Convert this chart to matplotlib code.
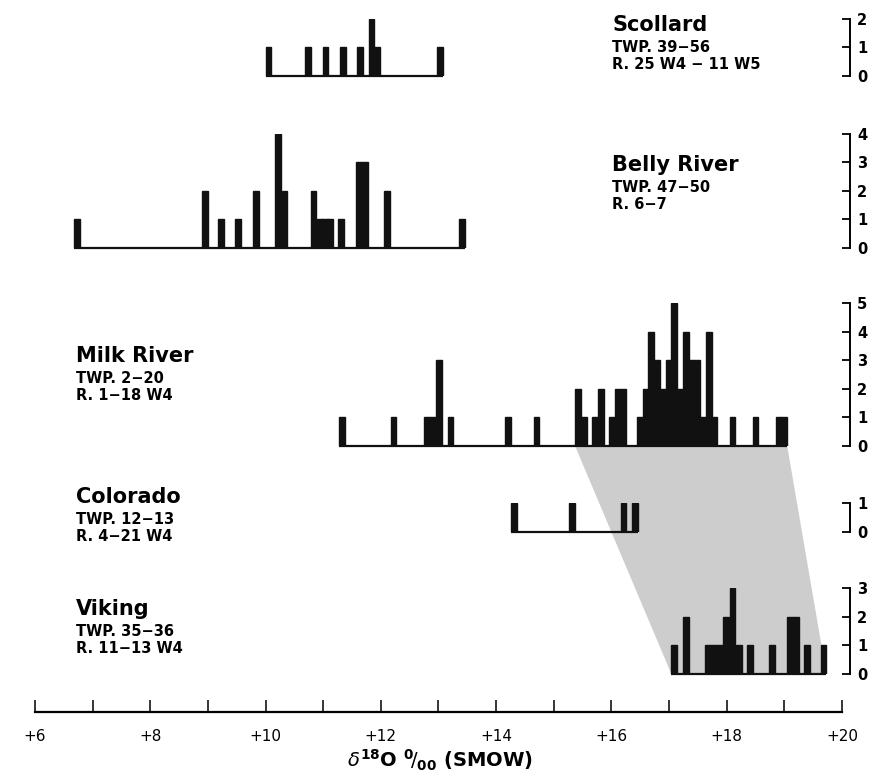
import matplotlib
matplotlib.use("Agg")
import matplotlib.pyplot as plt
from matplotlib.patches import Polygon
from matplotlib.transforms import blended_transform_factory

# ---------------- data ----------------
scollard_x = [10.05, 10.74, 11.04, 11.34, 11.64, 11.84, 11.94, 13.02]
scollard_n = [1, 1, 1, 1, 1, 2, 1, 1]

belly_x = [6.73, 8.95, 9.23, 9.52, 9.83, 10.22, 10.33, 10.83, 10.94, 11.03,
           11.12, 11.31, 11.62, 11.73, 12.11, 13.41]
belly_n = [1, 2, 1, 1, 2, 4, 2, 2, 1, 1, 1, 1, 3, 3, 2, 1]

milk_x = [11.32, 12.22, 12.80, 12.90, 13.01, 13.21, 14.21, 14.70,
          15.42, 15.52, 15.72, 15.82, 16.01, 16.11, 16.21, 16.49, 16.59,
          16.69, 16.79, 16.89, 16.99, 17.09, 17.19, 17.29, 17.39, 17.49,
          17.59, 17.69, 17.79, 18.10, 18.50, 18.90, 19.00]
milk_n = [1, 1, 1, 1, 3, 1, 1, 1,
          2, 1, 1, 2, 1, 2, 2, 1, 2,
          4, 3, 2, 3, 5, 2, 4, 3, 3,
          1, 4, 1, 1, 1, 1, 1]

colorado_x = [14.31, 15.32, 16.21, 16.41]
colorado_n = [1, 1, 1, 1]

viking_x = [17.09, 17.30, 17.68, 17.78, 17.88, 17.99, 18.10, 18.21, 18.40,
            18.79, 19.10, 19.20, 19.39, 19.68]
viking_n = [1, 2, 1, 1, 1, 2, 3, 1, 1, 1, 2, 2, 1, 1]

panel_names = ["Scollard", "Belly River", "Milk River", "Colorado", "Viking"]
panel_twp = ["TWP. 39\u221256", "TWP. 47\u221250", "TWP. 2\u221220",
             "TWP. 12\u221213", "TWP. 35\u221236"]
panel_rng = ["R. 25 W4 \u2212 11 W5", "R. 6\u22127", "R. 1\u221218 W4",
             "R. 4\u221221 W4", "R. 11\u221213 W4"]
panel_ymax = [2, 4, 5, 1, 3]

x_ticks = list(range(6, 21))
x_ticklabels = ["+%d" % v if v % 2 == 0 else "" for v in x_ticks]
x_label = r"$\delta^{\mathbf{18}}$O $^{\mathbf{0}}\!/_{\mathbf{00}}$ (SMOW)"

# ---------------- layout ----------------
W, H = 872, 775
fig = plt.figure(figsize=(W / 100, H / 100), dpi=100)
fig.patch.set_facecolor("white")
plt.rcParams["font.family"] = ["DejaVu Sans"]

left_px, right_px = 35, 850
px_per_unit = 57.64
xmin = 6.0
xmax = xmin + (right_px - left_px) / px_per_unit
unit_px = 28.6
bar_w = 0.1

baselines = [76, 248, 446, 532, 674]
text_pos = [(612, 31), (612, 171), (76, 362), (76, 503), (76, 615)]

datasets = [(scollard_x, scollard_n), (belly_x, belly_n), (milk_x, milk_n),
            (colorado_x, colorado_n), (viking_x, viking_n)]

axes = []
for i, ((xs, ns), ymax, base) in enumerate(zip(datasets, panel_ymax, baselines)):
    h = ymax * unit_px
    ax = fig.add_axes([left_px / W, 1 - base / H, (right_px - left_px) / W, h / H])
    ax.set_facecolor("none")
    ax.bar(xs, ns, width=bar_w, color="#111111", edgecolor="#111111",
           linewidth=1.0, align="center", zorder=3)
    ax.plot([min(xs) - bar_w / 2, max(xs) + bar_w / 2], [0, 0],
            color="#111111", lw=1.6, clip_on=False, solid_capstyle="butt",
            zorder=2)
    ax.set_xlim(xmin, xmax)
    ax.set_ylim(0, ymax)
    for s in ["top", "left", "bottom"]:
        ax.spines[s].set_visible(False)
    ax.spines["right"].set_bounds(0, ymax)
    ax.spines["right"].set_linewidth(1.4)
    ax.set_xticks([])
    ax.yaxis.tick_right()
    ax.set_yticks(list(range(0, ymax + 1)))
    ax.tick_params(axis="y", direction="in", length=6, width=1.3,
                   labelsize=10.5, pad=5)
    for t in ax.get_yticklabels():
        t.set_fontweight("bold")
    axes.append(ax)

    tx, ty = text_pos[i]
    fig.text(tx / W, 1 - ty / H, panel_names[i], fontsize=15,
             fontweight="bold", va="baseline", ha="left")
    fig.text(tx / W, 1 - (ty + 21) / H, panel_twp[i], fontsize=10.5,
             fontweight="bold", va="baseline", ha="left")
    fig.text(tx / W, 1 - (ty + 38) / H, panel_rng[i], fontsize=10.5,
             fontweight="bold", va="baseline", ha="left")

# shaded correlation band between Milk River cluster and Viking
ax_m = axes[2]
trans = blended_transform_factory(ax_m.transData, fig.transFigure)
top_l = milk_x[8] - bar_w / 2
top_r = milk_x[-1] + bar_w / 2
bot_l = viking_x[0] - bar_w / 2
bot_r = viking_x[-1] + bar_w / 2
y_top = 1 - baselines[2] / H
y_bot = 1 - baselines[4] / H
band = Polygon([(top_l, y_top), (top_r, y_top), (bot_r, y_bot), (bot_l, y_bot)],
               closed=True, transform=trans, facecolor="#cdcdcd",
               edgecolor="none", zorder=-1)
fig.add_artist(band)

# bottom x axis
axb = fig.add_axes([left_px / W, 1 - 712 / H, (right_px - left_px) / W, 0.04])
axb.set_facecolor("none")
axb.set_xlim(xmin, xmax)
for s in ["top", "left", "right"]:
    axb.spines[s].set_visible(False)
axb.spines["bottom"].set_bounds(6, 20)
axb.spines["bottom"].set_linewidth(1.6)
axb.set_yticks([])
axb.set_xticks(x_ticks)
axb.set_xticklabels(x_ticklabels)
axb.tick_params(axis="x", direction="in", length=9, width=1.1,
                labelsize=11, pad=12)

fig.text(440 / W, 1 - 760 / H, x_label, fontsize=14, fontweight="bold",
         ha="center", va="center")

fig.savefig("out.png", dpi=100, facecolor="white")
